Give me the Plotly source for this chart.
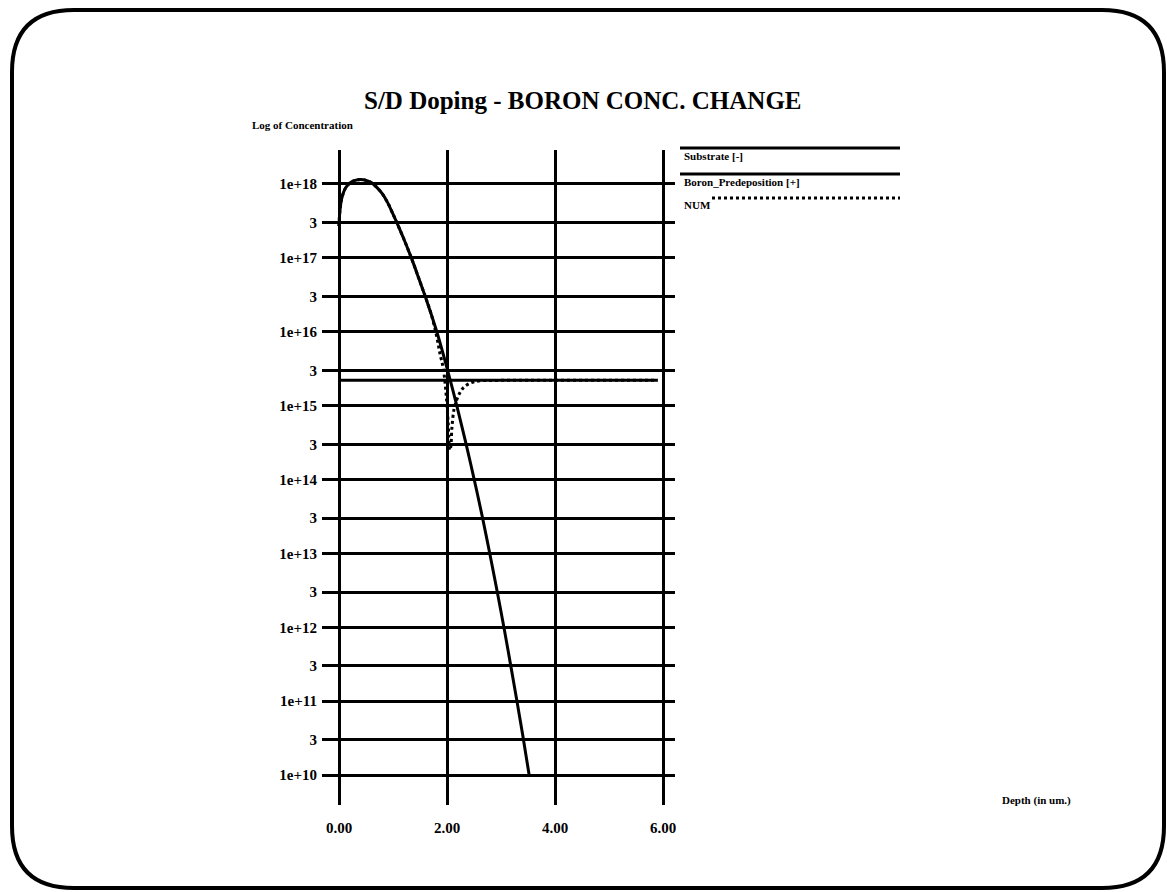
import plotly.graph_objects as go

# ---------------- data ----------------
boron_x = [0.00, 0.02, 0.06, 0.12, 0.20, 0.30, 0.40, 0.50, 0.60, 0.70, 0.80, 0.90,
           1.00, 1.07, 1.20, 1.36, 1.48, 1.60, 1.71, 1.81, 1.91, 2.01, 2.10, 2.18,
           2.34, 2.50, 2.65, 2.80, 2.93, 3.06, 3.18, 3.30, 3.40, 3.52]
boron_y = [2.7e17, 4.6e17, 6.8e17, 8.8e17, 1.03e18, 1.12e18, 1.15e18, 1.12e18, 1.04e18,
           9.0e17, 7.4e17, 5.6e17, 3.9e17, 3.0e17, 1.8e17, 9.1e16, 5.2e16, 2.95e16,
           1.7e16, 1.0e16, 5.6e15, 3.0e15, 1.7e15, 1.0e15, 3.3e14, 1.02e14, 3.2e13,
           9.2e12, 3.0e12, 9.3e11, 3.0e11, 9.4e10, 3.5e10, 1.0e10]

substrate_x = [0.00, 5.90]
substrate_y = [2.2e15, 2.2e15]

num_x = [0.00, 0.02, 0.06, 0.12, 0.20, 0.30, 0.40, 0.50, 0.60, 0.70, 0.80, 0.90,
         1.00, 1.07, 1.20, 1.36, 1.48, 1.60, 1.71, 1.81, 1.87, 1.93, 1.98, 2.02,
         2.05, 2.07, 2.09, 2.13, 2.18, 2.24, 2.32, 2.50, 3.00, 4.00, 5.90]
num_y = [2.7e17, 4.6e17, 6.8e17, 8.8e17, 1.03e18, 1.12e18, 1.15e18, 1.12e18, 1.04e18,
         9.0e17, 7.4e17, 5.6e17, 3.9e17, 3.0e17, 1.8e17, 9.1e16, 5.2e16, 2.95e16,
         1.7e16, 8.5e15, 5.0e15, 3.2e15, 1.5e15, 6.0e14, 2.5e14, 2.8e14, 5.0e14,
         9.0e14, 1.2e15, 1.5e15, 1.8e15, 2.1e15, 2.2e15, 2.2e15, 2.2e15]

x_ticks = [0, 2, 4, 6]
x_tick_labels = ["0.00", "2.00", "4.00", "6.00"]
y_ticks = [1e10, 3e10, 1e11, 3e11, 1e12, 3e12, 1e13, 3e13, 1e14, 3e14,
           1e15, 3e15, 1e16, 3e16, 1e17, 3e17, 1e18]
y_tick_labels = ["1e+10", "3", "1e+11", "3", "1e+12", "3", "1e+13", "3", "1e+14", "3",
                 "1e+15", "3", "1e+16", "3", "1e+17", "3", "1e+18"]

legend_names = ["Substrate [-]", "Boron_Predeposition [+]", "NUM"]

# ---------------- layout geometry (pixels) ----------------
W, H = 1167, 892
PL, PR, PT, PB = 322, 675, 150, 805   # plot area in page pixels


def px(xp):
    return (xp - PL) / (PR - PL)


def py(yp):
    return (PB - yp) / (PB - PT)


FONT = "Liberation Serif"
BLACK = "#000000"

fig = go.Figure()
fig.add_trace(go.Scatter(x=substrate_x, y=substrate_y, mode="lines",
                         line=dict(color=BLACK, width=3), name=legend_names[0]))
fig.add_trace(go.Scatter(x=boron_x, y=boron_y, mode="lines", line_shape="spline",
                         line=dict(color=BLACK, width=3), name=legend_names[1]))
fig.add_trace(go.Scatter(x=num_x, y=num_y, mode="lines", line_shape="spline",
                         line=dict(color=BLACK, width=3, dash="dot"), name=legend_names[2]))

fig.update_layout(
    width=W, height=H,
    margin=dict(l=PL, r=W - PR, t=PT, b=H - PB, pad=0),
    paper_bgcolor="white", plot_bgcolor="white",
    showlegend=False,
    font=dict(family=FONT, color=BLACK),
)
fig.update_xaxes(
    range=[-0.315, 6.22], tickvals=x_ticks, ticktext=x_tick_labels,
    showgrid=True, gridcolor=BLACK, gridwidth=3, zeroline=False, showline=False,
    ticks="", ticklabelstandoff=12,
    tickfont=dict(family=FONT, size=15, weight="bold", color=BLACK),
)
fig.update_yaxes(
    type="log", range=[9.594, 18.46], tickvals=y_ticks, ticktext=y_tick_labels,
    showgrid=True, gridcolor=BLACK, gridwidth=3, zeroline=False, showline=False,
    ticks="", ticklabelstandoff=4,
    tickfont=dict(family=FONT, size=15, weight="bold", color=BLACK),
)

shapes = []
# rounded frame
L_, T_, R_, B_, r = 12, 10, 1164, 888, 62
frame = (f"M {px(L_ + r)},{py(T_)} L {px(R_ - r)},{py(T_)} "
         f"Q {px(R_)},{py(T_)} {px(R_)},{py(T_ + r)} "
         f"L {px(R_)},{py(B_ - r)} Q {px(R_)},{py(B_)} {px(R_ - r)},{py(B_)} "
         f"L {px(L_ + r)},{py(B_)} Q {px(L_)},{py(B_)} {px(L_)},{py(B_ - r)} "
         f"L {px(L_)},{py(T_ + r)} Q {px(L_)},{py(T_)} {px(L_ + r)},{py(T_)} Z")
shapes.append(dict(type="path", path=frame, xref="paper", yref="paper",
                   line=dict(color=BLACK, width=4)))
# legend lines
shapes.append(dict(type="line", xref="paper", yref="paper", x0=px(680), x1=px(900),
                   y0=py(148), y1=py(148), line=dict(color=BLACK, width=3)))
shapes.append(dict(type="line", xref="paper", yref="paper", x0=px(680), x1=px(900),
                   y0=py(174), y1=py(174), line=dict(color=BLACK, width=3)))
shapes.append(dict(type="line", xref="paper", yref="paper", x0=px(712), x1=px(900),
                   y0=py(198), y1=py(198), line=dict(color=BLACK, width=3, dash="dot")))
fig.update_layout(shapes=shapes)

annotations = [
    dict(text="S/D Doping - BORON CONC. CHANGE", x=px(583), y=py(100),
         font=dict(size=25, weight="bold")),
    dict(text="Log of Concentration", x=px(250), y=py(125), xanchor="left",
         font=dict(size=11, weight="bold")),
    dict(text="Depth (in um.)", x=px(1000), y=py(800), xanchor="left",
         font=dict(size=11, weight="bold")),
    dict(text=legend_names[0], x=px(682), y=py(156), xanchor="left",
         font=dict(size=11, weight="bold")),
    dict(text=legend_names[1], x=px(682), y=py(182), xanchor="left",
         font=dict(size=11, weight="bold")),
    dict(text=legend_names[2], x=px(682), y=py(205), xanchor="left",
         font=dict(size=11, weight="bold")),
]
for a in annotations:
    a.update(xref="paper", yref="paper", showarrow=False, yanchor="middle")
    a.setdefault("xanchor", "center")
    a["font"].update(family=FONT, color=BLACK)
fig.update_layout(annotations=annotations)

fig.write_html("out.html")
